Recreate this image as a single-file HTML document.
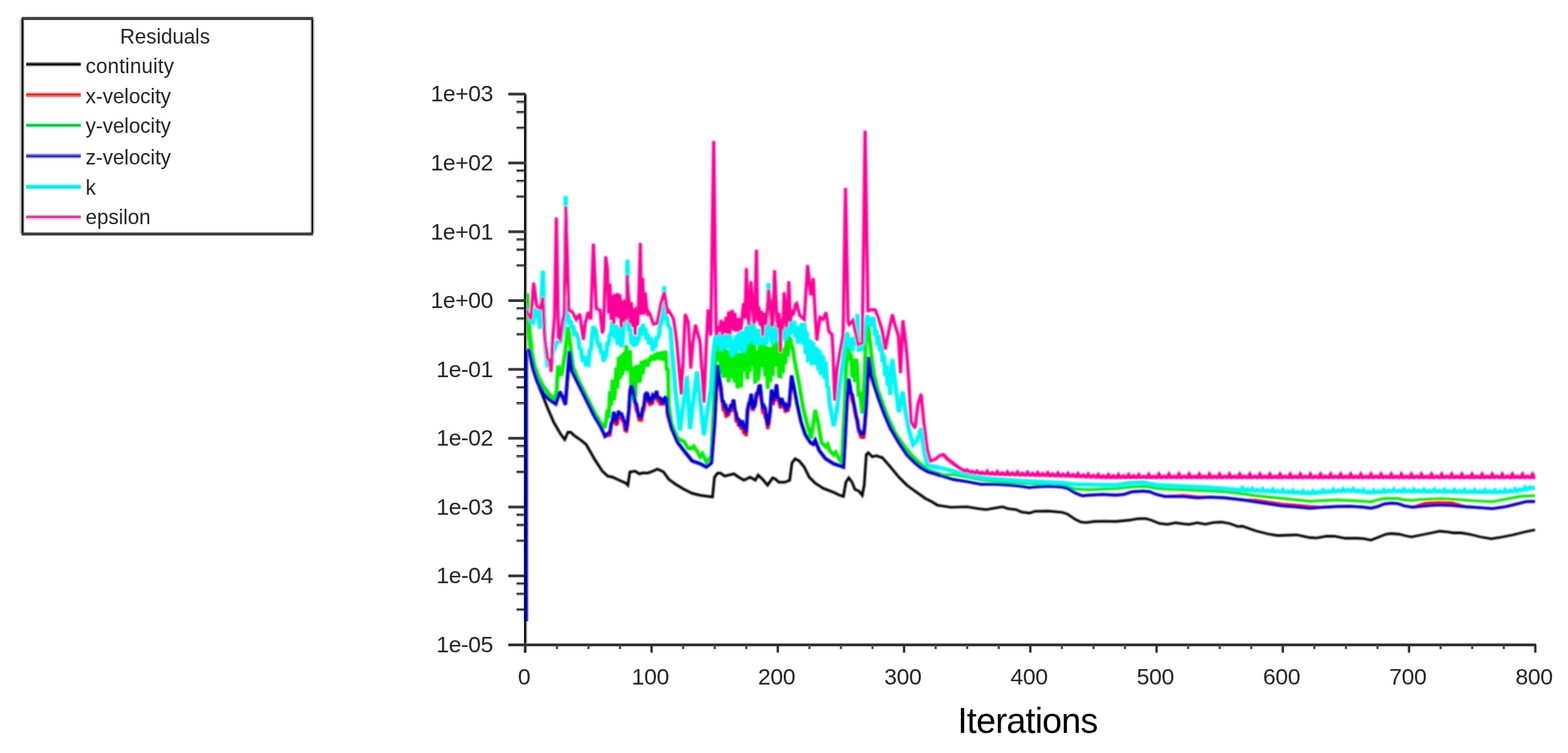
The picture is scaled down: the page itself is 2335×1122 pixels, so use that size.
<!DOCTYPE html>
<html lang="en"><head><meta charset="utf-8"><title>Residuals</title>
<style>html,body{margin:0;padding:0;background:#fff;}body{width:2335px;height:1122px;overflow:hidden;}svg{display:block;}text{font-family:'Liberation Sans','DejaVu Sans',sans-serif;}</style>
</head><body>
<svg width="2335" height="1122" viewBox="0 0 2335 1122">
<defs><filter id="soft" x="-5%" y="-5%" width="110%" height="110%"><feGaussianBlur stdDeviation="0.9"/></filter><filter id="soft2" x="-5%" y="-5%" width="110%" height="110%"><feGaussianBlur stdDeviation="0.6"/></filter></defs>
<rect x="0" y="0" width="2335" height="1122" fill="#ffffff"/>
<g fill="none" stroke-linejoin="miter" stroke-miterlimit="2.5" stroke-linecap="butt" filter="url(#soft)">
<polyline points="783.0,440.0 785.0,470.0 787.0,500.0 790.0,525.0 794.0,548.0 799.0,566.0 804.0,580.0 809.4,592.7 815.5,608.0 824.5,629.0 835.0,647.0 841.0,655.0 845.8,644.0 850.0,644.0 855.0,649.0 864.0,655.0 873.0,662.4 885.0,683.6 897.0,702.0 905.0,709.4 912.4,711.0 921.0,715.0 932.0,720.0 935.0,723.0 938.0,703.3 945.8,702.0 952.0,706.0 958.0,704.5 964.0,705.0 970.0,703.0 979.0,699.0 988.0,703.0 995.8,714.0 1006.0,721.5 1018.5,729.0 1030.6,735.0 1042.7,738.0 1061.0,740.6 1064.0,711.0 1068.5,705.0 1073.0,705.0 1079.0,709.4 1085.0,708.0 1092.7,706.0 1100.0,711.0 1108.0,715.5 1117.0,711.0 1124.8,715.5 1129.0,708.0 1135.5,714.0 1143.0,723.0 1150.6,712.0 1155.0,714.0 1159.7,718.5 1168.8,718.5 1176.0,715.5 1179.4,689.7 1184.0,683.6 1190.0,686.7 1197.6,695.8 1205.0,711.0 1214.0,720.0 1226.0,727.6 1241.5,733.6 1250.6,738.0 1256.0,739.7 1259.7,718.5 1264.0,712.0 1268.8,718.5 1273.0,729.0 1279.4,732.0 1284.0,738.0 1287.0,723.0 1290.0,677.6 1293.0,674.5 1299.0,680.6 1305.0,679.0 1314.0,682.0 1326.0,695.8 1338.5,711.0 1350.6,723.0 1362.7,732.0 1378.0,742.7 1388.0,747.8 1396.0,752.8 1400.0,753.4" stroke="#000000" stroke-width="4.0"/>
<polyline points="1400.0,753.4 1416.0,755.8 1440.0,755.2 1456.6,757.9 1468.6,759.3 1481.0,757.2 1492.8,755.2 1501.0,757.9 1513.0,759.3 1521.0,762.9 1533.0,764.5 1541.0,761.9 1561.0,761.5 1581.5,763.3 1589.5,765.9 1601.6,774.0 1609.7,778.0 1617.7,778.6 1629.8,777.0 1642.0,776.6 1662.0,777.0 1682.0,775.0 1694.0,773.0 1706.0,772.6 1714.4,775.0 1726.5,780.0 1738.6,781.4 1750.7,779.0 1762.8,780.6 1770.8,781.4 1783.0,779.0 1795.0,781.0 1807.0,778.6 1819.0,778.0 1831.0,780.0 1843.4,784.6 1850.0,784.0 1870.0,791.0 1890.0,796.0 1902.4,798.0 1930.6,797.0 1950.7,801.0 1961.0,801.7 1975.0,799.0 1987.0,799.0 2003.0,802.0 2021.0,802.0 2031.0,802.7 2041.4,804.8 2051.5,801.0 2063.5,796.0 2071.6,795.0 2083.7,796.0 2091.7,798.0 2101.8,800.0 2112.0,798.0 2132.0,794.0 2144.0,791.5 2156.0,792.7 2164.0,794.0 2176.0,794.0 2188.4,796.0 2204.5,800.0 2220.7,802.8 2232.8,801.0 2253.0,797.0 2273.0,792.0 2286.0,789.5" stroke="#000000" stroke-width="3.8"/>
<polyline points="785.0,520.0 788.0,523.0 794.0,550.0 800.0,568.5 809.4,586.7 818.5,595.8 827.6,601.8 833.6,583.6 838.0,592.0 842.0,603.0 848.0,523.0 851.8,553.0 861.0,571.5 873.0,595.8 885.0,620.0 894.0,635.0 901.0,650.0 906.4,648.5 908.3,648.2 910.1,635.9 912.0,627.2 913.9,619.0 915.8,630.2 917.7,632.4 919.5,631.1 921.4,615.8 923.3,621.3 925.2,619.6 927.1,627.2 928.9,628.7 930.8,641.5 932.7,642.3 934.6,633.5 936.5,614.2 938.3,586.2 940.2,577.7 942.1,582.4 944.0,597.8 945.9,600.7 947.7,611.9 949.6,613.0 951.5,625.5 953.4,625.9 955.3,625.9 957.1,614.9 959.0,610.1 960.9,597.0 962.8,583.3 964.7,596.4 966.5,599.7 968.4,604.3 970.3,597.5 972.2,599.3 974.1,591.3 975.9,594.4 977.8,587.1 979.7,597.3 981.6,598.0 983.5,603.7 985.3,598.7 987.2,603.8 989.1,598.1 991.0,600.2 992.9,600.3 994.0,618.5 1000.0,638.0 1009.0,659.0 1018.5,671.5 1030.6,686.7 1042.7,691.0 1051.8,695.8 1059.4,689.7 1064.0,632.0 1068.5,548.5 1071.8,569.7 1073.7,587.3 1075.6,598.3 1077.5,612.8 1079.3,609.5 1081.2,622.1 1083.1,615.5 1085.0,619.7 1086.9,609.5 1088.7,614.1 1090.6,601.3 1092.5,603.5 1094.4,608.1 1096.3,629.1 1098.1,625.7 1100.0,635.0 1101.9,631.6 1103.8,640.0 1105.7,634.1 1107.5,644.2 1109.4,643.5 1111.3,649.9 1113.2,614.4 1115.1,606.5 1116.9,593.4 1118.8,596.9 1120.7,604.0 1122.6,608.4 1124.5,604.2 1126.3,593.8 1128.2,588.2 1130.1,573.2 1132.0,584.7 1133.9,591.8 1135.7,612.7 1137.6,611.4 1139.5,622.1 1141.4,622.4 1143.3,639.1 1145.1,630.8 1147.0,615.3 1148.9,585.2 1150.8,603.3 1152.7,598.5 1154.5,592.7 1156.4,578.2 1158.3,595.9 1160.2,598.7 1162.1,608.6 1163.9,599.2 1165.8,602.5 1167.7,602.1 1169.6,614.8 1171.5,608.4 1173.3,613.2 1175.2,605.4 1178.8,563.9 1182.4,577.6 1187.0,601.8 1193.0,629.0 1199.0,647.0 1206.7,659.4 1211.0,662.0 1214.0,656.0 1220.0,671.5 1229.4,683.6 1241.5,691.0 1250.6,694.0 1256.0,695.8 1258.0,662.0 1261.0,605.0 1263.6,567.0 1265.5,578.9 1267.3,586.6 1269.2,597.8 1271.1,600.4 1273.0,614.2 1274.9,621.1 1276.7,630.4 1278.6,642.5 1280.5,646.1 1282.4,652.8 1284.3,648.9 1286.1,653.2 1288.0,634.1 1290.0,605.0 1293.6,535.0 1297.6,562.4 1302.0,574.5 1308.0,592.7 1317.0,617.0 1326.0,638.0 1338.5,659.4 1350.6,677.6 1362.7,689.7 1371.8,697.0 1382.4,703.0 1393.0,706.0 1400.0,708.5 1400.0,708.5" stroke="#ff0000" stroke-width="5.0"/>
<polyline points="1400.0,708.5 1420.0,714.5 1440.0,717.6 1460.6,721.6 1481.0,721.6 1501.0,722.6 1521.0,724.6 1533.0,726.6 1541.0,725.6 1561.0,724.6 1581.0,725.6 1589.5,727.6 1601.6,734.7 1611.7,738.7 1621.7,737.7 1642.0,736.7 1662.0,737.7 1674.0,736.7 1686.0,732.7 1702.0,731.7 1712.0,732.7 1722.0,736.7 1734.6,739.7 1762.8,738.2 1783.0,740.2 1803.0,740.7 1823.0,741.7 1850.0,744.8 1870.0,745.3 1890.0,748.3 1910.0,751.3 1930.6,752.7 1950.7,754.7 1971.0,755.8 1991.0,754.8 2011.0,754.4 2031.0,755.8 2041.4,757.2 2051.5,754.8 2061.5,750.8 2071.6,749.8 2081.7,750.4 2091.7,753.8 2103.8,755.8 2122.0,749.8 2142.0,748.4 2162.0,749.0 2182.4,755.0 2202.5,756.4 2222.7,757.9 2242.8,754.8 2263.0,749.8 2273.0,747.4 2286.0,747.2" stroke="#ff0000" stroke-width="4.0"/>
<polyline points="784.6,437 785.6,462 787.6,490 791,520" stroke="#00ee00" stroke-width="7.5"/>
<polyline points="784.0,438.0 785.5,462.0 787.5,490.0 791.0,520.0 796.0,545.0 802.0,562.0 809.4,576.0 818.5,588.0 826.0,595.0 829.0,580.0 831.0,545.0 836.0,560.0 841.0,530.0 846.0,487.0 850.0,520.0 853.0,545.0 861.0,565.5 873.0,589.7 885.0,614.0 894.0,629.0 900.0,638.0 903.0,625.0 904.5,610.0 906.4,623.0 908.3,582.9 910.1,604.9 912.0,565.6 913.9,596.5 915.8,586.2 917.7,547.3 919.5,579.1 921.4,531.7 923.3,565.1 925.2,528.4 927.1,559.4 928.9,524.9 930.8,552.2 932.7,514.4 934.6,550.4 936.5,550.9 938.3,521.6 940.2,585.6 942.1,598.0 944.0,546.4 945.9,592.0 947.7,546.4 949.6,546.3 951.5,569.0 953.4,566.8 955.3,537.7 957.1,557.9 959.0,539.5 960.9,537.9 962.8,539.5 964.7,546.3 966.5,533.2 968.4,539.0 970.3,529.1 972.2,535.0 974.1,534.9 975.9,526.6 977.8,535.9 979.7,524.5 981.6,535.6 983.5,524.2 985.3,537.1 987.2,523.3 989.1,537.6 991.0,522.5 992.9,552.0 994.7,548.6 996.0,605.0 1000.0,632.0 1009.0,653.0 1018.5,658.0 1025.0,668.0 1030.6,668.0 1033.0,665.0 1038.0,672.0 1042.7,680.6 1046.0,676.0 1051.8,688.0 1059.4,680.6 1063.0,602.0 1064.3,566.0 1066.2,503.1 1068.1,503.8 1069.9,538.2 1071.8,512.0 1073.7,557.5 1075.6,523.6 1077.5,562.8 1079.3,514.8 1081.2,561.9 1083.1,521.6 1085.0,569.6 1086.9,527.0 1088.7,564.3 1090.6,520.3 1092.5,507.6 1094.4,570.1 1096.3,513.1 1098.1,578.2 1100.0,574.3 1101.9,525.8 1103.8,577.2 1105.7,506.4 1107.5,553.4 1109.4,495.2 1111.3,548.7 1113.2,565.2 1115.1,507.6 1116.9,554.2 1118.8,497.3 1120.7,545.1 1122.6,501.2 1124.5,571.9 1126.3,521.7 1128.2,567.2 1130.1,558.1 1132.0,491.1 1133.9,547.6 1135.7,493.2 1137.6,495.4 1139.5,561.2 1141.4,515.6 1143.3,579.5 1145.1,516.9 1147.0,569.3 1148.9,516.8 1150.8,560.3 1152.7,500.0 1154.5,501.2 1156.4,546.4 1158.3,503.8 1160.2,560.5 1162.1,560.9 1163.9,522.6 1165.8,556.3 1167.7,517.8 1169.6,542.7 1171.5,501.4 1173.3,531.3 1175.2,503.8 1177.1,505.6 1179.0,515.3 1180.9,520.6 1182.7,534.4 1184.0,541.0 1190.0,571.5 1196.0,608.0 1202.0,632.0 1208.0,653.0 1211.0,632.0 1214.0,611.0 1218.8,632.0 1223.3,659.4 1229.4,665.5 1232.5,662.0 1235.5,671.5 1241.5,677.6 1244.5,674.0 1247.6,680.6 1253.6,689.7 1258.0,602.0 1261.5,506.0 1261.7,506.4 1263.6,510.0 1265.5,537.5 1267.3,526.7 1269.2,562.6 1271.1,534.5 1273.0,569.3 1274.9,534.5 1276.7,546.8 1278.6,591.2 1280.5,583.9 1282.4,600.4 1284.0,616.0 1287.0,571.5 1290.0,490.0 1293.0,487.0 1299.0,540.0 1302.0,560.0 1308.0,583.6 1320.0,617.0 1332.4,644.0 1344.5,662.4 1356.7,677.6 1368.8,689.7 1381.0,700.0 1393.0,704.8 1400.0,706.2" stroke="#00ee00" stroke-width="5.8"/>
<polyline points="1400.0,706.2 1408.0,707.9 1420.0,707.0 1440.0,711.0 1460.6,715.0 1481.0,717.0 1521.0,720.0 1561.0,722.0 1581.0,723.6 1601.6,728.6 1621.7,729.6 1642.0,728.6 1662.0,728.0 1682.0,725.6 1702.0,724.6 1712.0,725.6 1722.0,727.6 1742.6,729.0 1762.8,729.6 1783.0,730.7 1803.0,731.7 1823.0,732.7 1850.0,735.7 1870.0,738.7 1890.0,740.7 1910.0,742.7 1930.6,744.8 1950.7,746.8 1971.0,745.8 1991.0,744.8 2011.0,745.8 2031.0,746.8 2041.4,747.8 2051.5,744.8 2061.5,742.7 2081.7,742.7 2091.7,744.8 2103.8,745.5 2112.0,744.5 2132.0,743.5 2148.0,743.0 2172.3,744.5 2192.5,746.0 2212.6,747.0 2222.7,747.5 2242.8,743.7 2263.0,739.7 2286.0,738.5" stroke="#00ee00" stroke-width="4.2"/>
<polyline points="785.0,520.0 788.0,523.0 794.0,550.0 800.0,568.5 809.4,586.7 818.5,595.8 827.6,601.8 833.6,583.6 838.0,592.0 842.0,603.0 848.0,523.0 851.8,553.0 861.0,571.5 873.0,595.8 885.0,620.0 894.0,635.0 901.0,650.0 906.4,645.2 908.3,644.6 910.1,631.7 912.0,627.2 913.9,613.5 915.8,625.2 917.7,627.0 919.5,620.5 921.4,612.2 923.3,618.9 925.2,615.3 927.1,620.8 928.9,627.6 930.8,629.1 932.7,642.0 934.6,628.0 936.5,611.0 938.3,582.1 940.2,574.1 942.1,578.7 944.0,587.3 945.9,599.9 947.7,602.2 949.6,613.9 951.5,620.7 953.4,622.0 955.3,620.7 957.1,609.3 959.0,604.7 960.9,587.6 962.8,586.0 964.7,587.2 966.5,599.7 968.4,594.8 970.3,597.3 972.2,589.3 974.1,591.6 975.9,589.2 977.8,582.5 979.7,592.9 981.6,593.2 983.5,593.6 985.3,600.1 987.2,600.4 989.1,594.4 991.0,592.3 992.9,594.2 994.0,614.0 1000.0,638.0 1009.0,659.0 1018.5,671.5 1030.6,686.7 1042.7,691.0 1051.8,695.8 1059.4,689.7 1064.0,632.0 1068.5,544.0 1071.8,567.6 1073.7,578.4 1075.6,598.0 1077.5,598.6 1079.3,609.1 1081.2,606.5 1083.1,614.8 1085.0,612.3 1086.9,611.4 1088.7,602.2 1090.6,605.9 1092.5,595.3 1094.4,611.1 1096.3,616.5 1098.1,626.2 1100.0,623.5 1101.9,635.8 1103.8,628.5 1105.7,628.5 1107.5,639.2 1109.4,636.5 1111.3,645.2 1113.2,610.9 1115.1,601.4 1116.9,597.5 1118.8,586.7 1120.7,608.1 1122.6,606.6 1124.5,603.5 1126.3,587.0 1128.2,586.1 1130.1,577.5 1132.0,572.9 1133.9,594.9 1135.7,606.7 1137.6,604.9 1139.5,608.6 1141.4,625.8 1143.3,634.5 1145.1,626.7 1147.0,611.7 1148.9,580.3 1150.8,598.6 1152.7,593.5 1154.5,587.0 1156.4,572.7 1158.3,591.9 1160.2,594.3 1162.1,604.0 1163.9,593.1 1165.8,598.5 1167.7,605.5 1169.6,603.5 1171.5,612.6 1173.3,604.0 1175.2,604.0 1178.8,559.4 1182.4,577.6 1187.0,601.8 1193.0,629.0 1199.0,647.0 1206.7,659.4 1211.0,662.0 1214.0,656.0 1220.0,671.5 1229.4,683.6 1241.5,691.0 1250.6,694.0 1256.0,695.8 1258.0,662.0 1261.0,602.0 1263.6,564.0 1265.5,573.5 1267.3,586.0 1269.2,588.4 1271.1,600.1 1273.0,609.3 1274.9,620.2 1276.7,626.3 1278.6,639.5 1280.5,642.3 1282.4,648.5 1284.3,644.1 1286.1,648.6 1288.0,630.3 1290.0,602.0 1293.6,532.0 1297.6,559.4 1302.0,574.5 1308.0,592.7 1317.0,617.0 1326.0,638.0 1338.5,659.4 1350.6,677.6 1362.7,689.7 1371.8,697.0 1382.4,703.0 1393.0,706.0 1400.0,708.5 1400.0,708.5" stroke="#0000d0" stroke-width="5.3"/>
<polyline points="1400.0,708.5 1420.0,714.5 1440.0,717.6 1460.6,721.6 1481.0,721.6 1501.0,722.6 1521.0,724.6 1533.0,726.6 1541.0,725.6 1561.0,724.6 1581.0,725.6 1589.5,727.6 1601.6,734.7 1611.7,738.7 1621.7,737.7 1642.0,736.7 1662.0,737.7 1674.0,736.7 1686.0,732.7 1702.0,731.7 1712.0,732.7 1722.0,736.7 1734.6,739.7 1762.8,739.7 1783.0,741.7 1803.0,740.7 1823.0,741.7 1850.0,744.8 1870.0,747.8 1890.0,750.8 1910.0,753.8 1930.6,755.2 1950.7,757.2 1971.0,755.8 1991.0,754.8 2011.0,754.4 2031.0,755.8 2041.4,757.2 2051.5,754.8 2061.5,750.8 2071.6,749.8 2081.7,750.4 2091.7,753.8 2103.8,755.8 2122.0,753.8 2142.0,752.4 2162.0,753.0 2182.4,755.0 2202.5,756.4 2222.7,757.9 2242.8,754.8 2263.0,749.8 2273.0,747.4 2286.0,747.2" stroke="#0000d0" stroke-width="4.4"/>
<polyline points="783.0,465.0 785.0,462.0 788.0,471.5 790.6,478.8 794.0,480.6 797.5,462.4 801.5,465.0 804.0,490.0 806.3,450.0 808.4,403.3 810.5,476.0 812.5,520.0 815.5,547.0 819.0,541.0 823.0,526.0 829.0,510.0 834.5,509.0 838.6,489.8 840.5,480.0 842.4,292.0 844.3,470.0 846.2,470.4 848.1,482.9 850.0,477.2 851.9,488.8 853.7,485.6 855.6,500.3 857.5,495.0 859.4,499.6 861.3,504.7 863.1,521.1 865.0,518.2 866.9,533.5 868.8,538.8 870.7,530.6 872.5,545.5 874.4,541.8 876.3,542.9 878.2,522.4 880.1,520.1 881.9,498.5 883.8,485.9 885.7,492.0 887.6,492.4 889.5,508.7 891.3,513.4 893.2,511.0 895.1,526.7 897.0,523.5 898.9,539.2 900.7,528.0 902.6,532.3 904.5,509.5 906.4,514.4 908.3,496.5 910.1,500.1 912.0,478.4 913.9,497.8 915.8,503.7 917.7,483.7 919.5,513.8 921.4,493.2 923.3,488.5 925.2,517.2 927.1,508.9 928.9,479.6 930.8,476.6 932.7,474.6 934.4,386.9 936.5,492.9 938.3,488.9 940.2,513.6 942.1,499.7 944.0,516.7 945.9,501.0 947.7,514.7 949.6,508.2 951.5,505.5 953.4,487.8 955.3,500.2 957.1,482.5 959.0,494.5 960.9,488.4 962.8,506.1 964.7,497.1 966.5,513.2 968.4,502.8 970.3,507.3 972.2,523.6 974.1,510.6 975.9,518.1 977.8,501.5 979.7,504.6 981.6,497.5 983.5,480.2 985.3,480.4 987.2,466.2 989.2,426.7 991.0,477.2 992.9,471.4 994.7,484.3 996.6,487.3 998.5,490.6 1000.4,519.0 1002.3,540.1 1004.1,560.7 1005.5,579.0 1012.4,641.5 1018.0,600.0 1022.9,560.5 1027.5,639.0 1033.0,595.0 1038.0,553.5 1043.0,600.0 1048.3,648.5 1053.0,615.0 1058.8,579.0 1062.0,530.0 1062.4,525.5 1064.3,509.9 1066.2,498.4 1068.1,493.3 1069.9,515.1 1071.8,494.3 1073.7,522.6 1075.6,496.7 1077.5,517.4 1079.3,493.6 1081.2,519.7 1083.1,494.3 1085.0,517.8 1086.9,494.7 1088.7,524.7 1090.6,530.4 1092.5,506.0 1094.4,527.4 1096.3,500.0 1098.1,522.2 1100.0,495.1 1101.9,522.8 1103.8,492.7 1105.7,522.9 1107.5,522.8 1109.4,516.5 1111.3,486.5 1113.2,512.3 1115.1,478.9 1116.9,507.0 1118.8,481.2 1120.7,509.6 1122.6,483.4 1124.5,513.6 1126.3,490.1 1128.2,514.8 1130.1,493.8 1132.0,491.0 1133.9,514.0 1135.7,491.4 1137.6,509.0 1139.5,486.4 1141.4,513.9 1144.5,422.0 1147.0,483.0 1148.9,508.4 1150.8,512.4 1152.7,484.8 1154.5,508.3 1156.4,482.4 1158.3,509.2 1160.2,491.5 1162.1,511.9 1163.9,482.5 1165.8,504.0 1167.7,482.2 1169.6,507.0 1171.5,485.2 1173.3,500.4 1175.2,477.7 1177.1,498.3 1179.0,477.7 1180.9,496.0 1182.7,478.1 1184.6,502.8 1186.5,488.4 1188.4,512.3 1190.3,485.6 1192.1,508.4 1194.0,481.2 1195.9,513.8 1197.8,480.8 1199.7,527.7 1201.5,493.8 1203.4,536.4 1205.3,535.7 1207.2,506.5 1209.1,544.0 1210.9,509.4 1212.8,542.9 1214.7,518.0 1216.6,520.3 1218.5,551.6 1220.3,521.2 1222.2,558.8 1224.1,531.1 1226.0,532.6 1227.9,564.4 1229.7,538.9 1231.6,574.6 1233.5,577.4 1235.4,601.0 1235.5,601.8 1241.5,635.0 1246.0,614.0 1250.6,571.5 1255.0,541.0 1256.1,530.0 1257.9,509.9 1259.8,501.0 1261.7,495.5 1263.6,512.8 1265.5,517.6 1267.3,503.6 1269.2,523.7 1271.1,502.2 1273.0,514.7 1274.9,499.5 1277.0,468.0 1278.6,524.2 1280.5,507.4 1282.4,523.1 1284.3,503.0 1286.1,514.1 1288.0,487.1 1289.9,477.8 1291.8,469.5 1293.7,481.8 1295.5,472.6 1297.4,486.7 1299.3,473.2 1301.2,475.6 1303.1,500.4 1304.9,491.3 1306.8,515.2 1308.7,499.2 1310.6,523.6 1312.5,511.7 1314.3,539.7 1316.2,528.1 1318.1,560.5 1320.0,543.6 1321.9,574.6 1323.7,557.5 1325.6,588.4 1327.5,546.4 1329.0,535.0 1332.4,565.5 1338.5,614.0 1344.5,583.6 1347.6,608.0 1353.6,641.0 1359.7,662.4 1365.8,656.0 1371.8,638.0 1376.0,671.5 1381.0,692.7 1388.0,695.0 1400.0,697.0 1400.0,697.0" stroke="#00f6f6" stroke-width="6.5"/>
<polyline points="1400.0,697.0 1420.0,702.0 1440.0,707.5 1460.6,711.5 1481.0,713.5 1521.0,716.5 1561.0,718.6 1581.0,719.6 1601.6,721.6 1642.0,722.6 1662.0,722.6 1682.0,719.6 1702.0,718.6 1722.0,722.6 1762.8,724.6 1803.0,726.6 1847.6,730.1 1850.0,727.2 1852.4,730.1 1855.1,730.5 1857.5,729.0 1859.9,730.5 1862.6,730.9 1865.0,728.0 1867.4,730.9 1870.2,731.3 1872.6,729.8 1875.0,731.3 1877.7,731.7 1880.1,728.8 1882.5,731.7 1885.2,732.1 1887.6,730.6 1890.0,732.1 1892.7,732.5 1895.1,729.6 1897.5,732.5 1900.2,732.8 1902.6,731.3 1905.0,732.8 1907.8,733.2 1910.2,730.3 1912.6,733.2 1915.3,733.6 1917.7,732.1 1920.1,733.6 1922.8,733.9 1925.2,731.0 1927.6,733.9 1930.3,734.3 1932.7,732.8 1935.1,734.3 1937.8,734.7 1940.2,731.8 1942.6,734.7 1945.4,735.1 1947.8,733.6 1950.2,735.1 1952.9,734.8 1955.3,731.9 1957.7,734.8 1960.4,734.2 1962.8,732.7 1965.2,734.2 1967.9,733.6 1970.3,730.7 1972.7,733.6 1975.4,733.1 1977.8,731.6 1980.2,733.1 1983.0,732.6 1985.4,729.7 1987.8,732.6 1990.5,732.1 1992.9,730.6 1995.3,732.1 1998.0,731.7 2000.4,728.8 2002.8,731.7 2005.5,731.4 2007.9,729.9 2010.3,731.4 2013.0,731.6 2015.4,728.7 2017.8,731.6 2020.6,732.4 2023.0,730.9 2025.4,732.4 2028.1,733.1 2030.5,730.2 2032.9,733.1 2035.6,733.9 2038.0,732.4 2040.4,733.9 2043.1,733.9 2045.5,731.0 2047.9,733.9 2050.6,733.4 2053.0,731.9 2055.4,733.4 2058.2,732.9 2060.6,730.0 2063.0,732.9 2065.7,732.4 2068.1,730.9 2070.5,732.4 2073.2,732.2 2075.6,729.3 2078.0,732.2 2080.7,732.3 2083.1,730.8 2085.5,732.3 2088.2,732.3 2090.6,729.4 2093.0,732.3 2095.8,732.4 2098.2,730.9 2100.6,732.4 2103.3,732.5 2105.7,729.6 2108.1,732.5 2110.8,732.5 2113.2,731.0 2115.6,732.5 2118.3,732.5 2120.7,729.6 2123.1,732.5 2125.8,732.6 2128.2,731.1 2130.6,732.6 2133.4,732.6 2135.8,729.7 2138.2,732.6 2140.9,732.7 2143.3,731.2 2145.7,732.7 2148.4,732.7 2150.8,729.8 2153.2,732.7 2155.9,732.8 2158.3,731.3 2160.7,732.8 2163.4,732.9 2165.8,730.0 2168.2,732.9 2171.0,733.0 2173.4,731.5 2175.8,733.0 2178.5,733.1 2180.9,730.2 2183.3,733.1 2186.0,733.1 2188.4,731.6 2190.8,733.1 2193.5,733.2 2195.9,730.3 2198.3,733.2 2201.0,733.3 2203.4,731.8 2205.8,733.3 2208.6,733.3 2211.0,730.4 2213.4,733.3 2216.1,733.4 2218.5,731.9 2220.9,733.4 2223.6,733.4 2226.0,730.5 2228.4,733.4 2231.1,733.5 2233.5,732.0 2235.9,733.5 2238.6,733.0 2241.0,730.1 2243.4,733.0 2246.2,732.5 2248.6,731.0 2251.0,732.5 2253.7,731.7 2256.1,728.8 2258.5,731.7 2261.2,730.6 2263.6,729.1 2266.0,730.6 2268.7,729.4 2271.1,726.5 2273.5,729.4 2276.2,727.7 2278.6,726.2 2281.0,727.7 2286.0,726.6" stroke="#00f6f6" stroke-width="6.2"/>
<polyline points="783.0,461.0 790.6,476.0 794.7,421.2 799.5,457.0 804.3,459.6 808.4,443.0 811.2,503.5 815.0,533.0 818.0,538.0 820.8,554.0 823.5,500.0 825.8,472.0 828.5,324.0 831.8,503.5 834.5,506.0 837.3,483.0 840.0,470.0 842.6,307.0 846.9,462.4 852.4,465.0 857.9,476.0 863.4,467.9 868.8,506.3 871.6,481.6 875.7,465.0 879.8,476.0 883.7,363.0 888.0,459.6 893.6,462.4 897.0,496.7 898.9,487.2 902.0,382.0 904.5,400.6 906.4,467.1 908.3,422.6 910.1,477.1 912.0,439.7 913.9,483.1 915.8,437.9 917.7,472.2 919.5,436.5 921.4,474.0 923.3,438.5 925.2,488.5 927.1,447.7 928.9,480.0 930.8,445.9 932.7,477.2 934.0,409.5 936.5,446.4 938.3,482.1 940.2,450.0 942.1,487.1 944.0,459.5 945.9,499.5 947.7,457.0 949.6,485.0 951.5,438.3 953.6,362.0 955.3,469.0 957.1,414.1 959.0,468.9 960.9,435.6 962.8,456.8 964.7,467.6 966.5,465.7 967.7,467.9 973.2,483.0 978.7,481.6 984.2,452.8 989.2,434.9 993.8,465.0 996.0,463.0 1003.0,475.0 1007.8,509.5 1014.7,588.0 1018.0,520.0 1020.5,468.0 1025.0,480.0 1028.6,549.0 1032.0,510.0 1035.6,484.0 1042.5,509.5 1048.3,600.0 1051.5,520.0 1054.5,461.0 1058.5,500.0 1062.8,210.0 1066.5,500.0 1068.1,495.3 1069.9,489.7 1071.8,491.7 1073.7,476.6 1075.6,499.4 1077.5,478.9 1079.3,496.7 1081.2,472.1 1083.1,497.8 1085.0,464.1 1086.9,498.3 1088.7,464.9 1090.6,464.2 1092.5,492.5 1094.4,466.1 1096.3,494.7 1098.1,474.1 1100.0,493.9 1101.9,473.8 1103.8,491.5 1105.7,465.5 1107.5,451.4 1109.4,474.8 1111.5,399.5 1113.2,454.0 1115.1,484.8 1118.2,419.0 1120.7,454.5 1122.6,483.2 1124.5,449.3 1126.5,372.0 1128.2,478.9 1130.1,456.7 1132.0,485.2 1133.9,462.8 1135.7,500.9 1137.6,465.9 1139.5,484.1 1141.4,479.3 1144.4,431.0 1147.0,451.3 1148.9,484.8 1150.8,484.1 1153.4,402.5 1156.4,463.2 1158.3,488.9 1160.2,466.0 1162.1,524.8 1163.9,475.7 1165.8,490.6 1167.7,435.5 1169.6,459.0 1171.5,488.0 1173.3,457.7 1174.7,419.0 1177.1,479.4 1179.0,461.5 1180.9,470.1 1182.7,463.1 1184.6,453.3 1186.4,452.0 1191.0,470.0 1197.7,476.0 1202.6,395.0 1207.4,440.0 1211.1,414.5 1214.0,470.0 1216.4,507.4 1221.0,473.0 1225.4,476.0 1230.0,465.4 1234.4,494.0 1239.0,498.4 1240.5,524.0 1243.0,597.0 1246.5,550.0 1251.0,524.0 1255.5,500.0 1259.1,280.0 1263.0,480.0 1264.4,483.4 1270.4,477.4 1275.0,500.0 1278.0,513.4 1284.0,511.0 1288.3,194.5 1292.6,463.0 1299.0,461.5 1303.3,461.7 1307.8,473.0 1313.8,492.4 1318.3,521.0 1322.8,497.0 1328.8,468.4 1333.0,485.0 1337.8,500.0 1341.0,556.0 1344.6,477.4 1347.6,501.0 1350.6,529.0 1353.6,571.0 1356.7,629.0 1362.7,638.0 1367.0,602.0 1371.8,587.0 1376.0,632.0 1381.0,671.0 1385.5,687.0 1393.0,684.0 1399.0,679.0 1400.0,678.8" stroke="#ff0098" stroke-width="4.8"/>
<polyline points="1400.0,678.8 1405.0,677.5 1411.0,684.0 1420.0,691.0 1432.0,699.6 1437.6,702.3 1440.0,700.4 1442.4,702.3 1445.1,704.0 1447.5,702.5 1449.9,704.0 1452.6,704.9 1455.0,702.3 1457.4,704.9 1460.2,705.7 1462.6,703.9 1465.0,705.7 1467.7,706.1 1470.1,702.7 1472.5,706.1 1475.2,706.4 1477.6,704.4 1480.0,706.4 1482.7,706.7 1485.1,703.3 1487.5,706.7 1490.2,706.8 1492.6,704.8 1495.0,706.8 1497.8,707.0 1500.2,703.6 1502.6,707.0 1505.3,707.1 1507.7,705.1 1510.1,707.1 1512.8,707.3 1515.2,703.8 1517.6,707.3 1520.3,707.4 1522.7,705.4 1525.1,707.4 1527.8,707.6 1530.2,704.2 1532.6,707.6 1535.4,707.8 1537.8,705.7 1540.2,707.8 1542.9,708.0 1545.3,704.5 1547.7,708.0 1550.4,708.1 1552.8,706.1 1555.2,708.1 1557.9,708.3 1560.3,704.8 1562.7,708.3 1565.4,708.5 1567.8,706.4 1570.2,708.5 1573.0,708.7 1575.4,705.2 1577.8,708.7 1580.5,708.9 1582.9,706.8 1585.3,708.9 1588.0,709.2 1590.4,705.7 1592.8,709.2 1595.5,709.5 1597.9,707.4 1600.3,709.5 1603.0,709.8 1605.4,706.2 1607.8,709.8 1610.6,710.1 1613.0,707.9 1615.4,710.1 1618.1,710.4 1620.5,706.8 1622.9,710.4 1625.6,710.6 1628.0,708.5 1630.4,710.6 1633.1,710.9 1635.5,707.4 1637.9,710.9 1640.6,711.2 1643.0,709.1 1645.4,711.2 1648.2,711.2 1650.6,707.6 1653.0,711.2 1655.7,711.2 1658.1,709.1 1660.5,711.2 1663.2,711.2 1665.6,707.6 1668.0,711.2 1670.7,711.2 1673.1,709.1 1675.5,711.2 1678.2,711.2 1680.6,707.6 1683.0,711.2 1685.8,711.2 1688.2,709.0 1690.6,711.2 1693.3,711.2 1695.7,707.6 1698.1,711.2 1700.8,711.2 1703.2,709.8 1705.6,711.2 1708.3,711.2 1710.7,707.3 1713.1,711.2 1715.8,711.2 1718.2,709.7 1720.6,711.2 1723.4,711.2 1725.8,707.0 1728.2,711.2 1730.9,711.2 1733.3,709.7 1735.7,711.2 1738.4,711.2 1740.8,707.0 1743.2,711.2 1745.9,711.2 1748.3,709.7 1750.7,711.2 1753.4,711.2 1755.8,707.0 1758.2,711.2 1761.0,711.2 1763.4,709.7 1765.8,711.2 1768.5,711.2 1770.9,707.0 1773.3,711.2 1776.0,711.2 1778.4,709.7 1780.8,711.2 1783.5,711.2 1785.9,707.0 1788.3,711.2 1791.0,711.2 1793.4,709.7 1795.8,711.2 1798.6,711.2 1801.0,707.0 1803.4,711.2 1806.1,711.2 1808.5,709.7 1810.9,711.2 1813.6,711.2 1816.0,707.0 1818.4,711.2 1821.1,711.2 1823.5,709.7 1825.9,711.2 1828.6,711.2 1831.0,707.0 1833.4,711.2 1836.2,711.2 1838.6,709.7 1841.0,711.2 1843.7,711.2 1846.1,707.0 1848.5,711.2 1851.2,711.2 1853.6,709.7 1856.0,711.2 1858.7,711.2 1861.1,707.0 1863.5,711.2 1866.2,711.2 1868.6,709.7 1871.0,711.2 1873.8,711.2 1876.2,707.0 1878.6,711.2 1881.3,711.2 1883.7,709.7 1886.1,711.2 1888.8,711.2 1891.2,707.0 1893.6,711.2 1896.3,711.2 1898.7,709.7 1901.1,711.2 1903.8,711.2 1906.2,707.0 1908.6,711.2 1911.4,711.2 1913.8,709.7 1916.2,711.2 1918.9,711.2 1921.3,707.0 1923.7,711.2 1926.4,711.2 1928.8,709.7 1931.2,711.2 1933.9,711.2 1936.3,707.0 1938.7,711.2 1941.4,711.2 1943.8,709.7 1946.2,711.2 1949.0,711.2 1951.4,707.0 1953.8,711.2 1956.5,711.2 1958.9,709.7 1961.3,711.2 1964.0,711.2 1966.4,707.0 1968.8,711.2 1971.5,711.2 1973.9,709.7 1976.3,711.2 1979.0,711.2 1981.4,707.0 1983.8,711.2 1986.6,711.2 1989.0,709.7 1991.4,711.2 1994.1,711.2 1996.5,707.0 1998.9,711.2 2001.6,711.2 2004.0,709.7 2006.4,711.2 2009.1,711.2 2011.5,707.0 2013.9,711.2 2016.6,711.2 2019.0,709.7 2021.4,711.2 2024.2,711.2 2026.6,707.0 2029.0,711.2 2031.7,711.2 2034.1,709.7 2036.5,711.2 2039.2,711.2 2041.6,707.0 2044.0,711.2 2046.7,711.2 2049.1,709.7 2051.5,711.2 2054.2,711.2 2056.6,707.0 2059.0,711.2 2061.8,711.2 2064.2,709.7 2066.6,711.2 2069.3,711.2 2071.7,707.0 2074.1,711.2 2076.8,711.2 2079.2,709.7 2081.6,711.2 2084.3,711.2 2086.7,707.0 2089.1,711.2 2091.8,711.2 2094.2,709.7 2096.6,711.2 2099.4,711.2 2101.8,707.0 2104.2,711.2 2106.9,711.2 2109.3,709.7 2111.7,711.2 2114.4,711.2 2116.8,707.0 2119.2,711.2 2121.9,711.2 2124.3,709.7 2126.7,711.2 2129.4,711.2 2131.8,707.0 2134.2,711.2 2137.0,711.2 2139.4,709.7 2141.8,711.2 2144.5,711.2 2146.9,707.0 2149.3,711.2 2152.0,711.2 2154.4,709.7 2156.8,711.2 2159.5,711.2 2161.9,707.0 2164.3,711.2 2167.0,711.2 2169.4,709.7 2171.8,711.2 2174.6,711.2 2177.0,707.0 2179.4,711.2 2182.1,711.2 2184.5,709.7 2186.9,711.2 2189.6,711.2 2192.0,707.0 2194.4,711.2 2197.1,711.2 2199.5,709.7 2201.9,711.2 2204.6,711.2 2207.0,707.0 2209.4,711.2 2212.2,711.2 2214.6,709.7 2217.0,711.2 2219.7,711.2 2222.1,707.0 2224.5,711.2 2227.2,711.2 2229.6,709.7 2232.0,711.2 2234.7,711.2 2237.1,707.0 2239.5,711.2 2242.2,711.2 2244.6,709.7 2247.0,711.2 2249.8,711.2 2252.2,707.0 2254.6,711.2 2257.3,711.2 2259.7,709.7 2262.1,711.2 2264.8,711.2 2267.2,707.0 2269.6,711.2 2272.3,711.2 2274.7,709.7 2277.1,711.2 2279.8,711.2 2282.2,707.0 2284.6,711.2 2286.6,710.5" stroke="#ff0098" stroke-width="5.4"/>
</g>
<g filter="url(#soft2)">
<rect x="780.4" y="139.6" width="2.6" height="833" fill="#000"/>
<rect x="783.0" y="140.5" width="1.9" height="818" fill="#868686"/>
<rect x="757" y="138.1" width="25.6" height="4.2" fill="#383838"/>
<rect x="769.2" y="150.1" width="12" height="2.5" fill="#2e2e2e"/>
<rect x="769.2" y="152.6" width="12" height="1.4" fill="#7a7a7a"/>
<rect x="769.2" y="165.3" width="12" height="2.5" fill="#2e2e2e"/>
<rect x="769.2" y="167.8" width="12" height="1.4" fill="#7a7a7a"/>
<rect x="769.2" y="188.8" width="12" height="2.5" fill="#2e2e2e"/>
<rect x="769.2" y="191.3" width="12" height="1.4" fill="#7a7a7a"/>
<rect x="757" y="240.7" width="25.6" height="4.2" fill="#383838"/>
<rect x="769.2" y="252.6" width="12" height="2.5" fill="#2e2e2e"/>
<rect x="769.2" y="255.1" width="12" height="1.4" fill="#7a7a7a"/>
<rect x="769.2" y="267.9" width="12" height="2.5" fill="#2e2e2e"/>
<rect x="769.2" y="270.4" width="12" height="1.4" fill="#7a7a7a"/>
<rect x="769.2" y="291.3" width="12" height="2.5" fill="#2e2e2e"/>
<rect x="769.2" y="293.8" width="12" height="1.4" fill="#7a7a7a"/>
<rect x="757" y="343.2" width="25.6" height="4.2" fill="#383838"/>
<rect x="769.2" y="355.2" width="12" height="2.5" fill="#2e2e2e"/>
<rect x="769.2" y="357.7" width="12" height="1.4" fill="#7a7a7a"/>
<rect x="769.2" y="370.4" width="12" height="2.5" fill="#2e2e2e"/>
<rect x="769.2" y="372.9" width="12" height="1.4" fill="#7a7a7a"/>
<rect x="769.2" y="393.9" width="12" height="2.5" fill="#2e2e2e"/>
<rect x="769.2" y="396.4" width="12" height="1.4" fill="#7a7a7a"/>
<rect x="757" y="445.8" width="25.6" height="4.2" fill="#383838"/>
<rect x="769.2" y="457.7" width="12" height="2.5" fill="#2e2e2e"/>
<rect x="769.2" y="460.2" width="12" height="1.4" fill="#7a7a7a"/>
<rect x="769.2" y="473.0" width="12" height="2.5" fill="#2e2e2e"/>
<rect x="769.2" y="475.5" width="12" height="1.4" fill="#7a7a7a"/>
<rect x="769.2" y="496.4" width="12" height="2.5" fill="#2e2e2e"/>
<rect x="769.2" y="498.9" width="12" height="1.4" fill="#7a7a7a"/>
<rect x="757" y="548.3" width="25.6" height="4.2" fill="#383838"/>
<rect x="769.2" y="560.3" width="12" height="2.5" fill="#2e2e2e"/>
<rect x="769.2" y="562.8" width="12" height="1.4" fill="#7a7a7a"/>
<rect x="769.2" y="575.5" width="12" height="2.5" fill="#2e2e2e"/>
<rect x="769.2" y="578.0" width="12" height="1.4" fill="#7a7a7a"/>
<rect x="769.2" y="599.0" width="12" height="2.5" fill="#2e2e2e"/>
<rect x="769.2" y="601.5" width="12" height="1.4" fill="#7a7a7a"/>
<rect x="757" y="650.9" width="25.6" height="4.2" fill="#383838"/>
<rect x="769.2" y="662.8" width="12" height="2.5" fill="#2e2e2e"/>
<rect x="769.2" y="665.3" width="12" height="1.4" fill="#7a7a7a"/>
<rect x="769.2" y="678.1" width="12" height="2.5" fill="#2e2e2e"/>
<rect x="769.2" y="680.6" width="12" height="1.4" fill="#7a7a7a"/>
<rect x="769.2" y="701.5" width="12" height="2.5" fill="#2e2e2e"/>
<rect x="769.2" y="704.0" width="12" height="1.4" fill="#7a7a7a"/>
<rect x="757" y="753.4" width="25.6" height="4.2" fill="#383838"/>
<rect x="769.2" y="765.4" width="12" height="2.5" fill="#2e2e2e"/>
<rect x="769.2" y="767.9" width="12" height="1.4" fill="#7a7a7a"/>
<rect x="769.2" y="780.6" width="12" height="2.5" fill="#2e2e2e"/>
<rect x="769.2" y="783.1" width="12" height="1.4" fill="#7a7a7a"/>
<rect x="769.2" y="804.1" width="12" height="2.5" fill="#2e2e2e"/>
<rect x="769.2" y="806.6" width="12" height="1.4" fill="#7a7a7a"/>
<rect x="757" y="856.0" width="25.6" height="4.2" fill="#383838"/>
<rect x="769.2" y="867.9" width="12" height="2.5" fill="#2e2e2e"/>
<rect x="769.2" y="870.4" width="12" height="1.4" fill="#7a7a7a"/>
<rect x="769.2" y="883.2" width="12" height="2.5" fill="#2e2e2e"/>
<rect x="769.2" y="885.7" width="12" height="1.4" fill="#7a7a7a"/>
<rect x="769.2" y="906.6" width="12" height="2.5" fill="#2e2e2e"/>
<rect x="769.2" y="909.1" width="12" height="1.4" fill="#7a7a7a"/>
<rect x="757" y="958.8" width="1530.5" height="4.2" fill="#333"/>
<rect x="780.5" y="960.9" width="3.6" height="11.6" fill="#333"/>
<rect x="827.7" y="960.9" width="3.2" height="6.2" fill="#484848"/>
<rect x="874.7" y="960.9" width="3.2" height="6.2" fill="#484848"/>
<rect x="921.7" y="960.9" width="3.2" height="6.2" fill="#484848"/>
<rect x="968.5" y="960.9" width="3.6" height="11.6" fill="#333"/>
<rect x="1015.7" y="960.9" width="3.2" height="6.2" fill="#484848"/>
<rect x="1062.7" y="960.9" width="3.2" height="6.2" fill="#484848"/>
<rect x="1109.7" y="960.9" width="3.2" height="6.2" fill="#484848"/>
<rect x="1156.5" y="960.9" width="3.6" height="11.6" fill="#333"/>
<rect x="1203.7" y="960.9" width="3.2" height="6.2" fill="#484848"/>
<rect x="1250.7" y="960.9" width="3.2" height="6.2" fill="#484848"/>
<rect x="1297.7" y="960.9" width="3.2" height="6.2" fill="#484848"/>
<rect x="1344.5" y="960.9" width="3.6" height="11.6" fill="#333"/>
<rect x="1391.7" y="960.9" width="3.2" height="6.2" fill="#484848"/>
<rect x="1438.7" y="960.9" width="3.2" height="6.2" fill="#484848"/>
<rect x="1485.7" y="960.9" width="3.2" height="6.2" fill="#484848"/>
<rect x="1532.5" y="960.9" width="3.6" height="11.6" fill="#333"/>
<rect x="1579.7" y="960.9" width="3.2" height="6.2" fill="#484848"/>
<rect x="1626.7" y="960.9" width="3.2" height="6.2" fill="#484848"/>
<rect x="1673.7" y="960.9" width="3.2" height="6.2" fill="#484848"/>
<rect x="1720.5" y="960.9" width="3.6" height="11.6" fill="#333"/>
<rect x="1767.7" y="960.9" width="3.2" height="6.2" fill="#484848"/>
<rect x="1814.7" y="960.9" width="3.2" height="6.2" fill="#484848"/>
<rect x="1861.7" y="960.9" width="3.2" height="6.2" fill="#484848"/>
<rect x="1908.5" y="960.9" width="3.6" height="11.6" fill="#333"/>
<rect x="1955.7" y="960.9" width="3.2" height="6.2" fill="#484848"/>
<rect x="2002.7" y="960.9" width="3.2" height="6.2" fill="#484848"/>
<rect x="2049.7" y="960.9" width="3.2" height="6.2" fill="#484848"/>
<rect x="2096.5" y="960.9" width="3.6" height="11.6" fill="#333"/>
<rect x="2143.7" y="960.9" width="3.2" height="6.2" fill="#484848"/>
<rect x="2190.7" y="960.9" width="3.2" height="6.2" fill="#484848"/>
<rect x="2237.7" y="960.9" width="3.2" height="6.2" fill="#484848"/>
<rect x="2284.5" y="960.9" width="3.6" height="11.6" fill="#333"/>
</g>
<g filter="url(#soft2)"><rect x="780.5" y="522" width="4.7" height="403.6" fill="#000090"/><rect x="785.2" y="522" width="1.6" height="403.6" fill="#4c4ce4"/></g>
<g fill="#262626" font-size="34px" letter-spacing="-0.5" filter="url(#soft2)">
<text x="734.2" y="151.4" text-anchor="end">1e+03</text>
<text x="734.2" y="254.0" text-anchor="end">1e+02</text>
<text x="734.2" y="356.5" text-anchor="end">1e+01</text>
<text x="734.2" y="459.0" text-anchor="end">1e+00</text>
<text x="734.2" y="561.6" text-anchor="end">1e-01</text>
<text x="734.2" y="664.1" text-anchor="end">1e-02</text>
<text x="734.2" y="766.7" text-anchor="end">1e-03</text>
<text x="734.2" y="869.2" text-anchor="end">1e-04</text>
<text x="734.2" y="971.8" text-anchor="end">1e-05</text>
<text x="780.6" y="1020.2" text-anchor="middle" letter-spacing="-0.4">0</text>
<text x="968.6" y="1020.2" text-anchor="middle" letter-spacing="-0.4">100</text>
<text x="1156.6" y="1020.2" text-anchor="middle" letter-spacing="-0.4">200</text>
<text x="1344.6" y="1020.2" text-anchor="middle" letter-spacing="-0.4">300</text>
<text x="1532.6" y="1020.2" text-anchor="middle" letter-spacing="-0.4">400</text>
<text x="1720.6" y="1020.2" text-anchor="middle" letter-spacing="-0.4">500</text>
<text x="1908.6" y="1020.2" text-anchor="middle" letter-spacing="-0.4">600</text>
<text x="2096.6" y="1020.2" text-anchor="middle" letter-spacing="-0.4">700</text>
<text x="2284.6" y="1020.2" text-anchor="middle" letter-spacing="-0.4">800</text>
</g>
<text x="1530.3" y="1092" text-anchor="middle" font-size="52.8px" letter-spacing="-0.87" fill="#000" filter="url(#soft2)">Iterations</text>
<g filter="url(#soft2)">
<rect x="29.4" y="28" width="2.8" height="320" fill="#c6c6c6"/>
<rect x="34.8" y="29" width="2" height="318" fill="#cfcfcf"/>
<rect x="461.6" y="29" width="2.4" height="318" fill="#cfcfcf"/>
<rect x="466.1" y="28" width="2.4" height="320" fill="#c6c6c6"/>
<rect x="32" y="26.5" width="3" height="323" fill="#000"/>
<rect x="463.9" y="26.5" width="2.4" height="323" fill="#000"/>
<rect x="32.4" y="25.3" width="433.9" height="4.5" fill="#3a3a3a"/>
<rect x="32" y="346.4" width="434" height="4.5" fill="#3a3a3a"/>
<rect x="39.0" y="93.1" width="81.4" height="1.6" fill="#3c3c3c"/>
<rect x="39.0" y="94.7" width="81.4" height="3.1" fill="#000000"/>
<rect x="39.0" y="97.8" width="81.4" height="1.8" fill="#c8c8c8"/>
<rect x="39.0" y="137.9" width="81.4" height="1.9" fill="#ff8a8a"/>
<rect x="39.0" y="139.8" width="81.4" height="2.1" fill="#d41010"/>
<rect x="39.0" y="141.9" width="81.4" height="2.7" fill="#ff6a6a"/>
<rect x="39.0" y="183.0" width="81.4" height="1.8" fill="#b8ffd4"/>
<rect x="39.0" y="184.8" width="81.4" height="4.0" fill="#00c83c"/>
<rect x="39.0" y="188.8" width="81.4" height="1.8" fill="#b8ffd4"/>
<rect x="39.0" y="229.0" width="81.4" height="2.5" fill="#8888ff"/>
<rect x="39.0" y="231.5" width="81.4" height="2.3" fill="#0000a0"/>
<rect x="39.0" y="233.8" width="81.4" height="2.0" fill="#8c8ce6"/>
<rect x="39.0" y="274.2" width="81.4" height="1.9" fill="#96ffff"/>
<rect x="39.0" y="276.1" width="81.4" height="4.9" fill="#00ecee"/>
<rect x="39.0" y="281.0" width="81.4" height="1.4" fill="#c8ffff"/>
<rect x="39.0" y="321.0" width="81.4" height="1.9" fill="#e8509a"/>
<rect x="39.0" y="322.9" width="81.4" height="1.9" fill="#d81b7a"/>
<rect x="39.0" y="324.8" width="81.4" height="2.6" fill="#ffb4f0"/>
</g>
<g fill="#262626" font-size="30.5px" filter="url(#soft2)">
<text x="245.7" y="65" text-anchor="middle">Residuals</text>
<text x="127.5" y="109.0" letter-spacing="0.3">continuity</text>
<text x="127.5" y="153.6">x-velocity</text>
<text x="127.5" y="198.2">y-velocity</text>
<text x="127.5" y="245.0">z-velocity</text>
<text x="127.5" y="289.8">k</text>
<text x="127.5" y="334.3">epsilon</text>
</g>
</svg>
</body></html>
